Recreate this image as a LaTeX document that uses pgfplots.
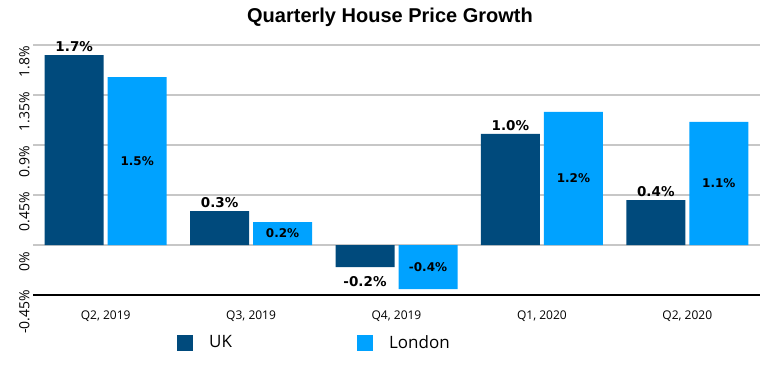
\documentclass[border=0pt]{standalone}
\usepackage{pgfplots}
\pgfplotsset{compat=1.18}
\usepackage{fontspec}
\setmainfont{Open Sans}
\newfontfamily\titlefont{Liberation Sans}
\newfontfamily\labfont{DejaVu Sans}
\definecolor{ukblue}{RGB}{0,74,124}
\definecolor{ldnblue}{RGB}{0,162,255}
\begin{document}
\begin{tikzpicture}[x=1pt,y=1pt]
\path[use as bounding box] (0,0) rectangle (768,365);
\node[font=\titlefont\bfseries\fontsize{20}{23}\selectfont] at (390,348) {Quarterly House Price Growth};
\begin{axis}[
  at={(33pt,70pt)}, anchor=south west,
  scale only axis, width=727pt, height=250pt,
  xmin=-0.5, xmax=4.5, ymin=-0.45, ymax=1.8,
  ybar=4pt, bar width=59pt,
  xtick={0,1,2,3,4},
  xticklabels={{Q2, 2019},{Q3, 2019},{Q4, 2019},{Q1, 2020},{Q2, 2020}},
  ytick={-0.45,0,0.45,0.9,1.35,1.8},
  yticklabels={-0.45\%,0\%,0.45\%,0.9\%,1.35\%,1.8\%},
  major tick length=0pt,
  tick style={draw=none},
  axis line style={draw=none},
  ymajorgrids, grid style={draw=black!22, line width=1.3pt},
  yticklabel style={rotate=90, anchor=south, xshift=-17pt, font=\fontsize{14}{16}\selectfont},
  xticklabel style={yshift=-12pt, font=\fontsize{12}{14}\selectfont},
  point meta=explicit symbolic,
  nodes near coords,
  legend style={at={(0.194,-0.19)}, anchor=west, draw=none, fill=none,
    legend columns=2, font=\fontsize{17}{20}\selectfont,
    /tikz/every even column/.append style={column sep=123pt}},
  legend image code/.code={\fill[#1,draw=none] (0pt,-8pt) rectangle (16pt,8pt); \path[draw=none,fill=none] (16pt,-1pt) rectangle (30pt,1pt);},
]
\addplot[fill=ukblue, draw=none,
  visualization depends on={rawy \as \rawy},
  every node near coord/.append style={anchor=south, yshift={(\rawy<0)*(-23)}, font=\labfont\bfseries\fontsize{13.5}{15}\selectfont}]
  coordinates {(0,1.71) [1.7\%] (1,0.306) [0.3\%] (2,-0.198) [-0.2\%] (3,1.0) [1.0\%] (4,0.405) [0.4\%]};
\addplot[fill=ldnblue, draw=none,
  visualization depends on={rawy \as \rawy},
  every node near coord/.append style={anchor=center, yshift={-55.556*(\rawy)}, font=\labfont\bfseries\fontsize{12}{14}\selectfont}]
  coordinates {(0,1.51) [1.5\%] (1,0.207) [0.2\%] (2,-0.396) [-0.4\%] (3,1.198) [1.2\%] (4,1.108) [1.1\%]};
\legend{UK, London}
\draw[black, line width=1.3pt] (rel axis cs:0,0) -- (rel axis cs:1,0);
\end{axis}
\end{tikzpicture}
\end{document}
